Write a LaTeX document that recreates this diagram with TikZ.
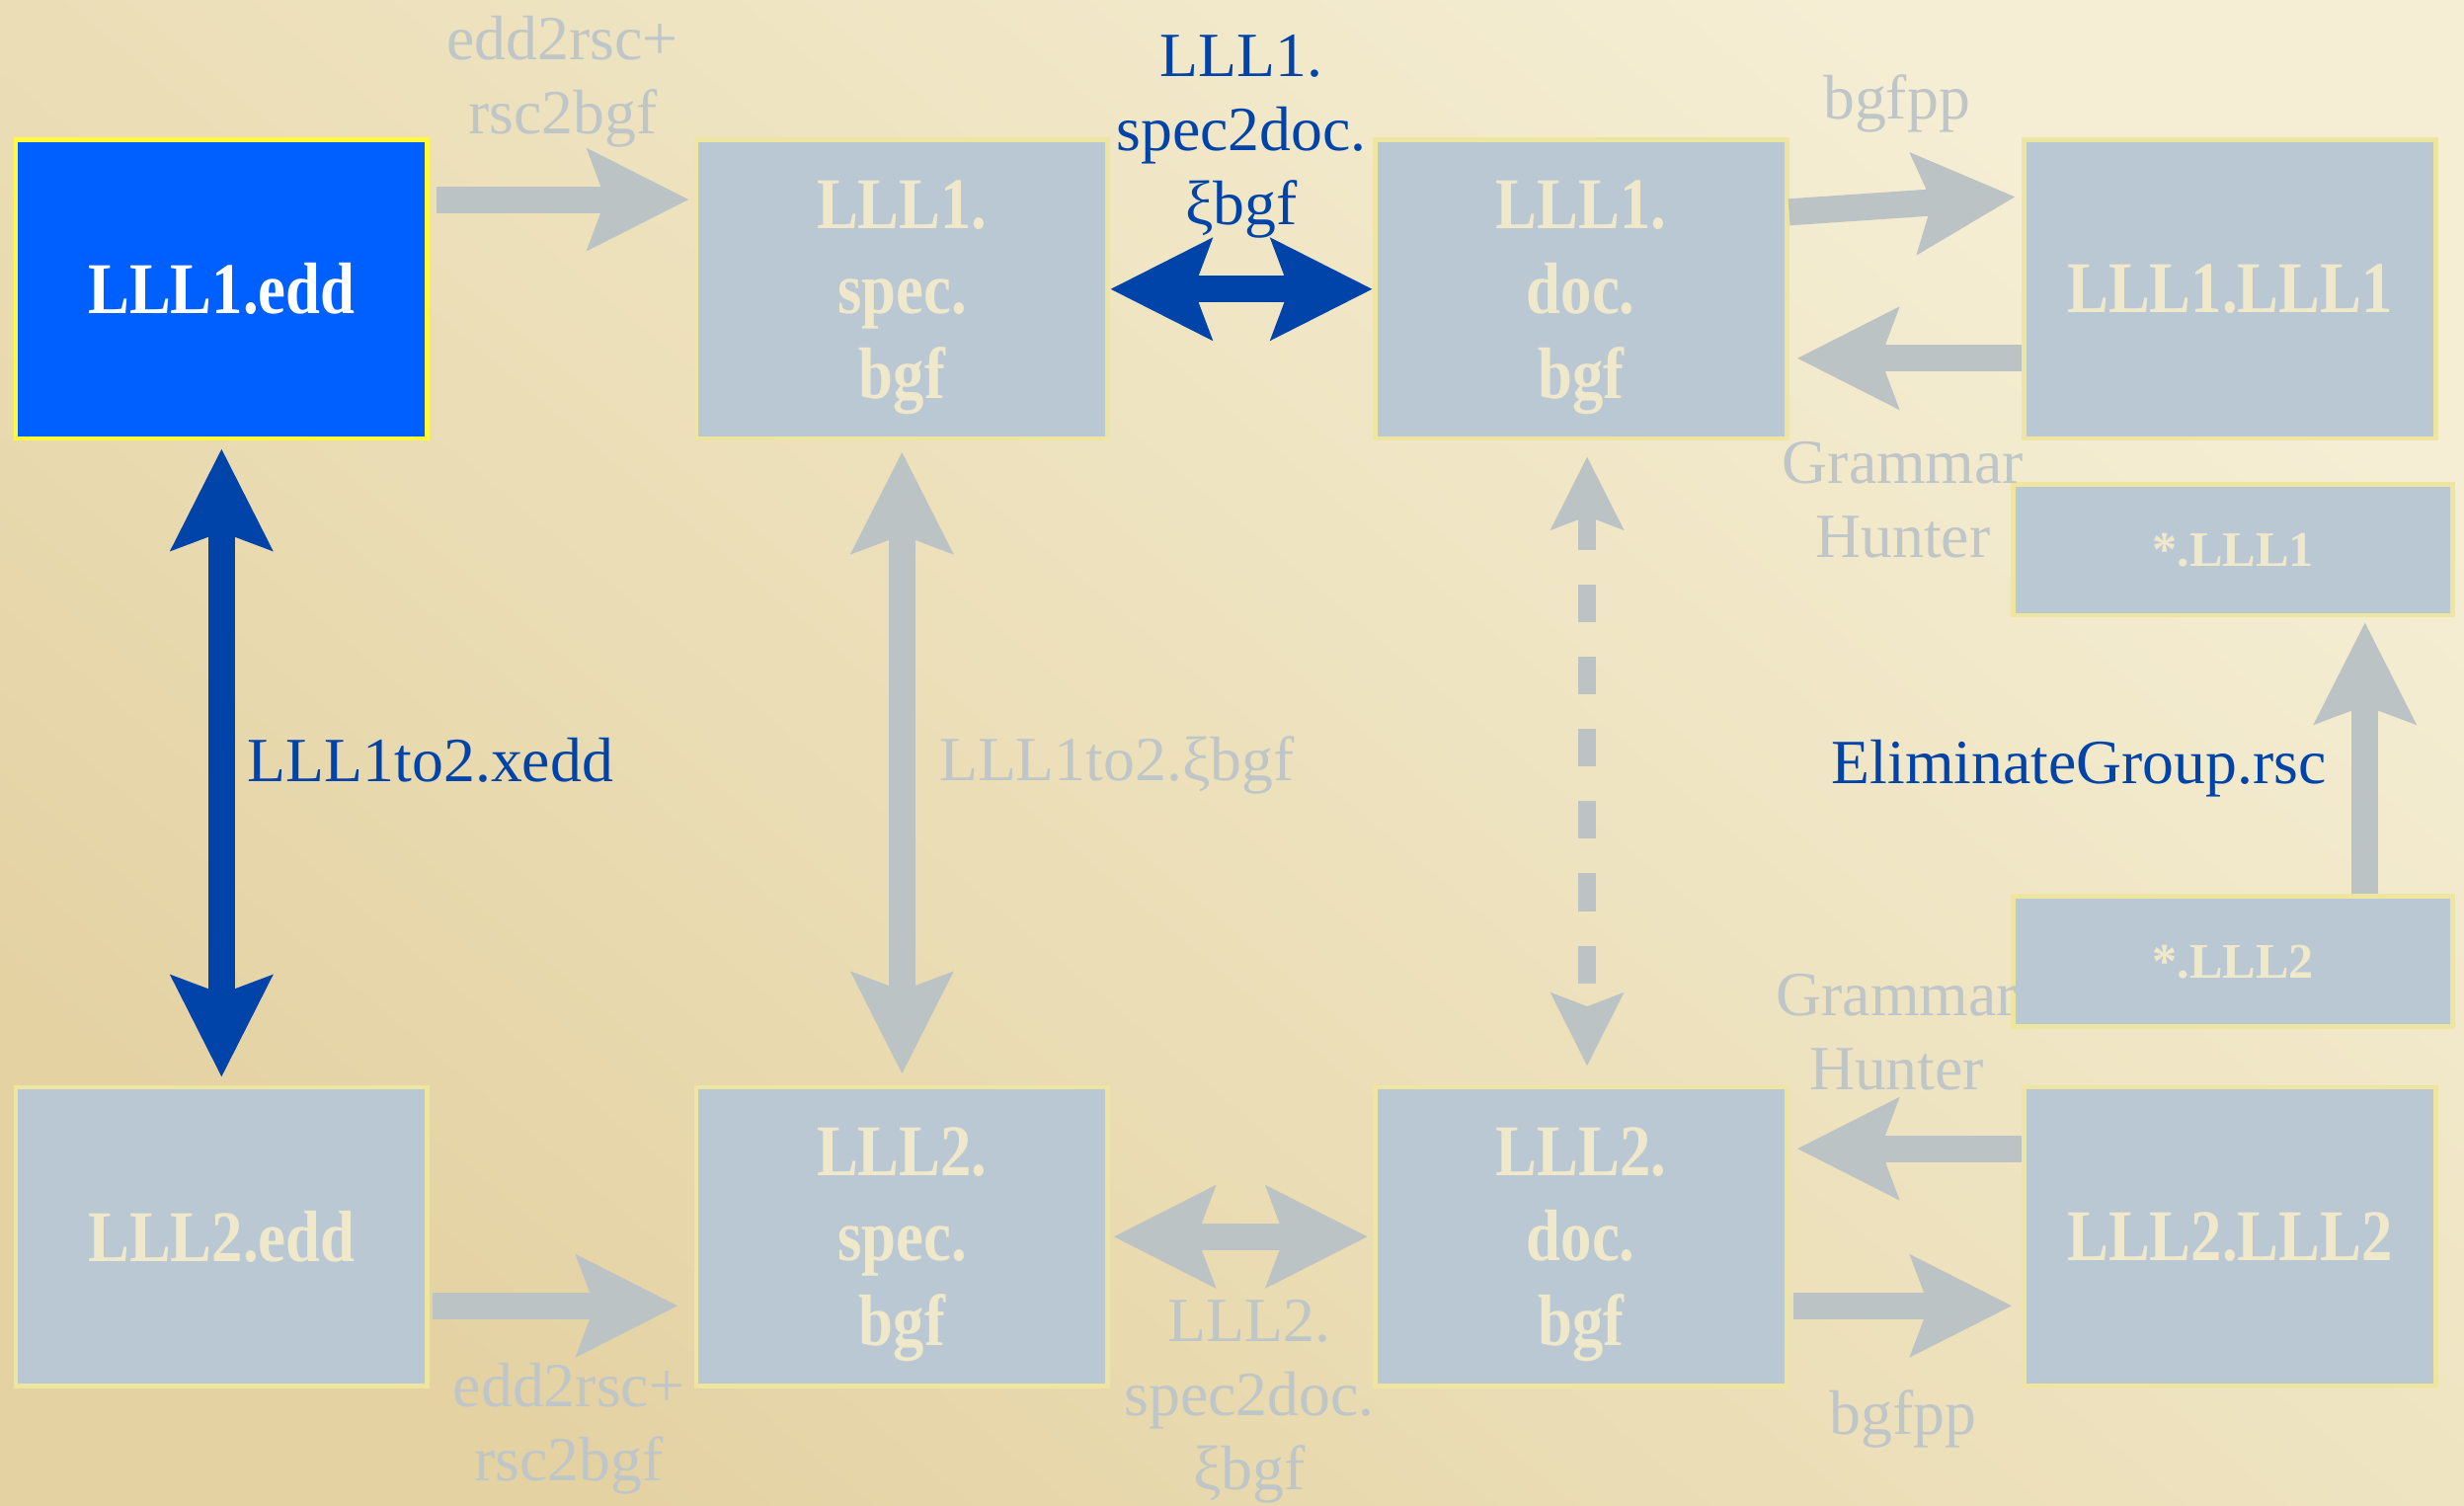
\documentclass[tikz,border=0pt]{standalone}
\usepackage{fontspec}
\setmainfont{Liberation Serif}
\newfontfamily\narrowserif{Liberation Serif}[FakeStretch=0.85]
\usetikzlibrary{arrows.meta}

\definecolor{bgtop}{RGB}{245,238,212}
\definecolor{bgmid}{RGB}{237,225,188}
\definecolor{bgbot}{RGB}{228,210,163}
\definecolor{boxgray}{RGB}{186,200,212}
\definecolor{boxedge}{RGB}{238,230,160}
\definecolor{boxtext}{RGB}{240,232,202}
\definecolor{hotblue}{RGB}{0,95,255}
\definecolor{hotedge}{RGB}{255,250,60}
\definecolor{darkblue}{RGB}{0,68,170}
\definecolor{arrowgray}{RGB}{188,195,196}
\definecolor{labelgray}{RGB}{190,198,200}

\begin{document}
\begin{tikzpicture}[x=0.1mm, y=-0.1mm,
		>={Stealth[length=6.4mm, width=6.3mm, inset=1.1mm]},
		box/.style={rectangle, fill=boxgray, draw=boxedge, line width=0.3mm, minimum width=26.2mm, minimum height=19mm, inner sep=0pt, align=center, text=boxtext, font=\narrowserif\bfseries\fontsize{13.2}{15.4}\selectfont},
		tallbox/.style={box, text depth=-0.4mm},
		hotbox/.style={box, fill=hotblue, draw=hotedge, text=white},
		smallbox/.style={box, minimum width=28mm, minimum height=8.3mm, font=\bfseries\fontsize{9}{11}\selectfont},
		graylabel/.style={inner sep=0pt, align=center, text=labelgray, font=\fontsize{11.4}{13.4}\selectfont},
		bluelabel/.style={graylabel, text=darkblue},
		grayarrow/.style={draw=arrowgray, line width=1.7mm},
		bluearrow/.style={draw=darkblue, line width=1.7mm},
		dashedarrow/.style={draw=arrowgray, line width=1.15mm, dash pattern=on 2.4mm off 2.2mm,
			{Stealth[length=4.6mm, width=4.5mm, inset=0.8mm]}-{Stealth[length=4.6mm, width=4.5mm, inset=0.8mm]}}]

	% background
	\fill[bgmid] (0,0) rectangle (1568,958);
	\shade[top color=bgtop, bottom color=bgbot, middle color=bgmid, shading angle=-40] (0,0) rectangle (1568,958);
	\useasboundingbox (0,0) rectangle (1568,958);

	% boxes
	\node[hotbox] (edd1) at (141,184) {LLL1.edd};
	\node[tallbox] (spec1) at (574,184) {LLL1.\\spec.\\bgf};
	\node[tallbox] (doc1) at (1006,184) {LLL1.\\doc.\\bgf};
	\node[box] (gram1) at (1419,184) {LLL1.LLL1};
	\node[smallbox] (star1) at (1421,350) {*.LLL1};
	\node[smallbox] (star2) at (1421,612) {*.LLL2};
	\node[box] (edd2) at (141,787) {LLL2.edd};
	\node[tallbox] (spec2) at (574,787) {LLL2.\\spec.\\bgf};
	\node[tallbox] (doc2) at (1006,787) {LLL2.\\doc.\\bgf};
	\node[box] (gram2) at (1419,787) {LLL2.LLL2};

	% top row
	\draw[grayarrow, ->, shorten <=0.4mm, shorten >=0.3mm] ([yshift=5.7mm]edd1.east) -- ([yshift=5.7mm]spec1.west);
	\draw[bluearrow, <->] (spec1) -- (doc1);
	\draw[grayarrow, ->, shorten >=0.4mm] ([yshift=4.9mm]doc1.east) -- ([yshift=5.9mm]gram1.west);
	\draw[grayarrow, ->, shorten >=0.5mm] ([yshift=-4.4mm]gram1.west) -- ([yshift=-4.4mm]doc1.east);

	% verticals
	\draw[bluearrow, <->, shorten <=0.5mm, shorten >=0.5mm] (edd1) -- (edd2);
	\draw[grayarrow, <->, shorten <=0.7mm, shorten >=0.7mm] (spec1) -- (spec2);
	\draw[dashedarrow, shorten <=1mm, shorten >=1.2mm] ([xshift=0.4mm]doc1.south) -- ([xshift=0.4mm]doc2.north);
	\draw[grayarrow, ->, shorten >=0.3mm] ([xshift=8.4mm]star2.north) -- ([xshift=8.4mm]star1.south);

	% bottom row
	\draw[grayarrow, ->, shorten <=0.2mm, shorten >=1mm] ([yshift=-4.4mm]edd2.east) -- ([yshift=-4.4mm]spec2.west);
	\draw[grayarrow, <->, shorten <=0.2mm, shorten >=0.3mm] (spec2) -- (doc2);
	\draw[grayarrow, ->, shorten >=0.5mm] ([yshift=5.6mm]gram2.west) -- ([yshift=5.6mm]doc2.east);
	\draw[grayarrow, ->, shorten <=0.3mm, shorten >=0.6mm] ([yshift=-4.4mm]doc2.east) -- ([yshift=-4.4mm]gram2.west);

	% labels
	\node[graylabel] (l1) at (358,52) {edd2rsc+\\rsc2bgf};
	\node[bluelabel] (l2) at (790,87) {LLL1.\\spec2doc.\\ξbgf};
	\node[graylabel] (l3) at (1207,66) {bgfpp};
	\node[graylabel] (l4) at (1211,318) {Grammar\\Hunter};
	\node[bluelabel, anchor=west] (l5) at (157,484) {LLL1to2.xedd};
	\node[graylabel, anchor=west] (l6) at (597,487) {LLL1to2.ξbgf};
	\node[bluelabel] (l7) at (1323,489) {EliminateGroup.rsc};
	\node[graylabel] (l8) at (1207,657) {Grammar\\Hunter};
	\node[graylabel] (l9) at (362,909) {edd2rsc+\\rsc2bgf};
	\node[graylabel] (l10) at (795,892) {LLL2.\\spec2doc.\\ξbgf};
	\node[graylabel] (l11) at (1211,903) {bgfpp};
\end{tikzpicture}
\end{document}
